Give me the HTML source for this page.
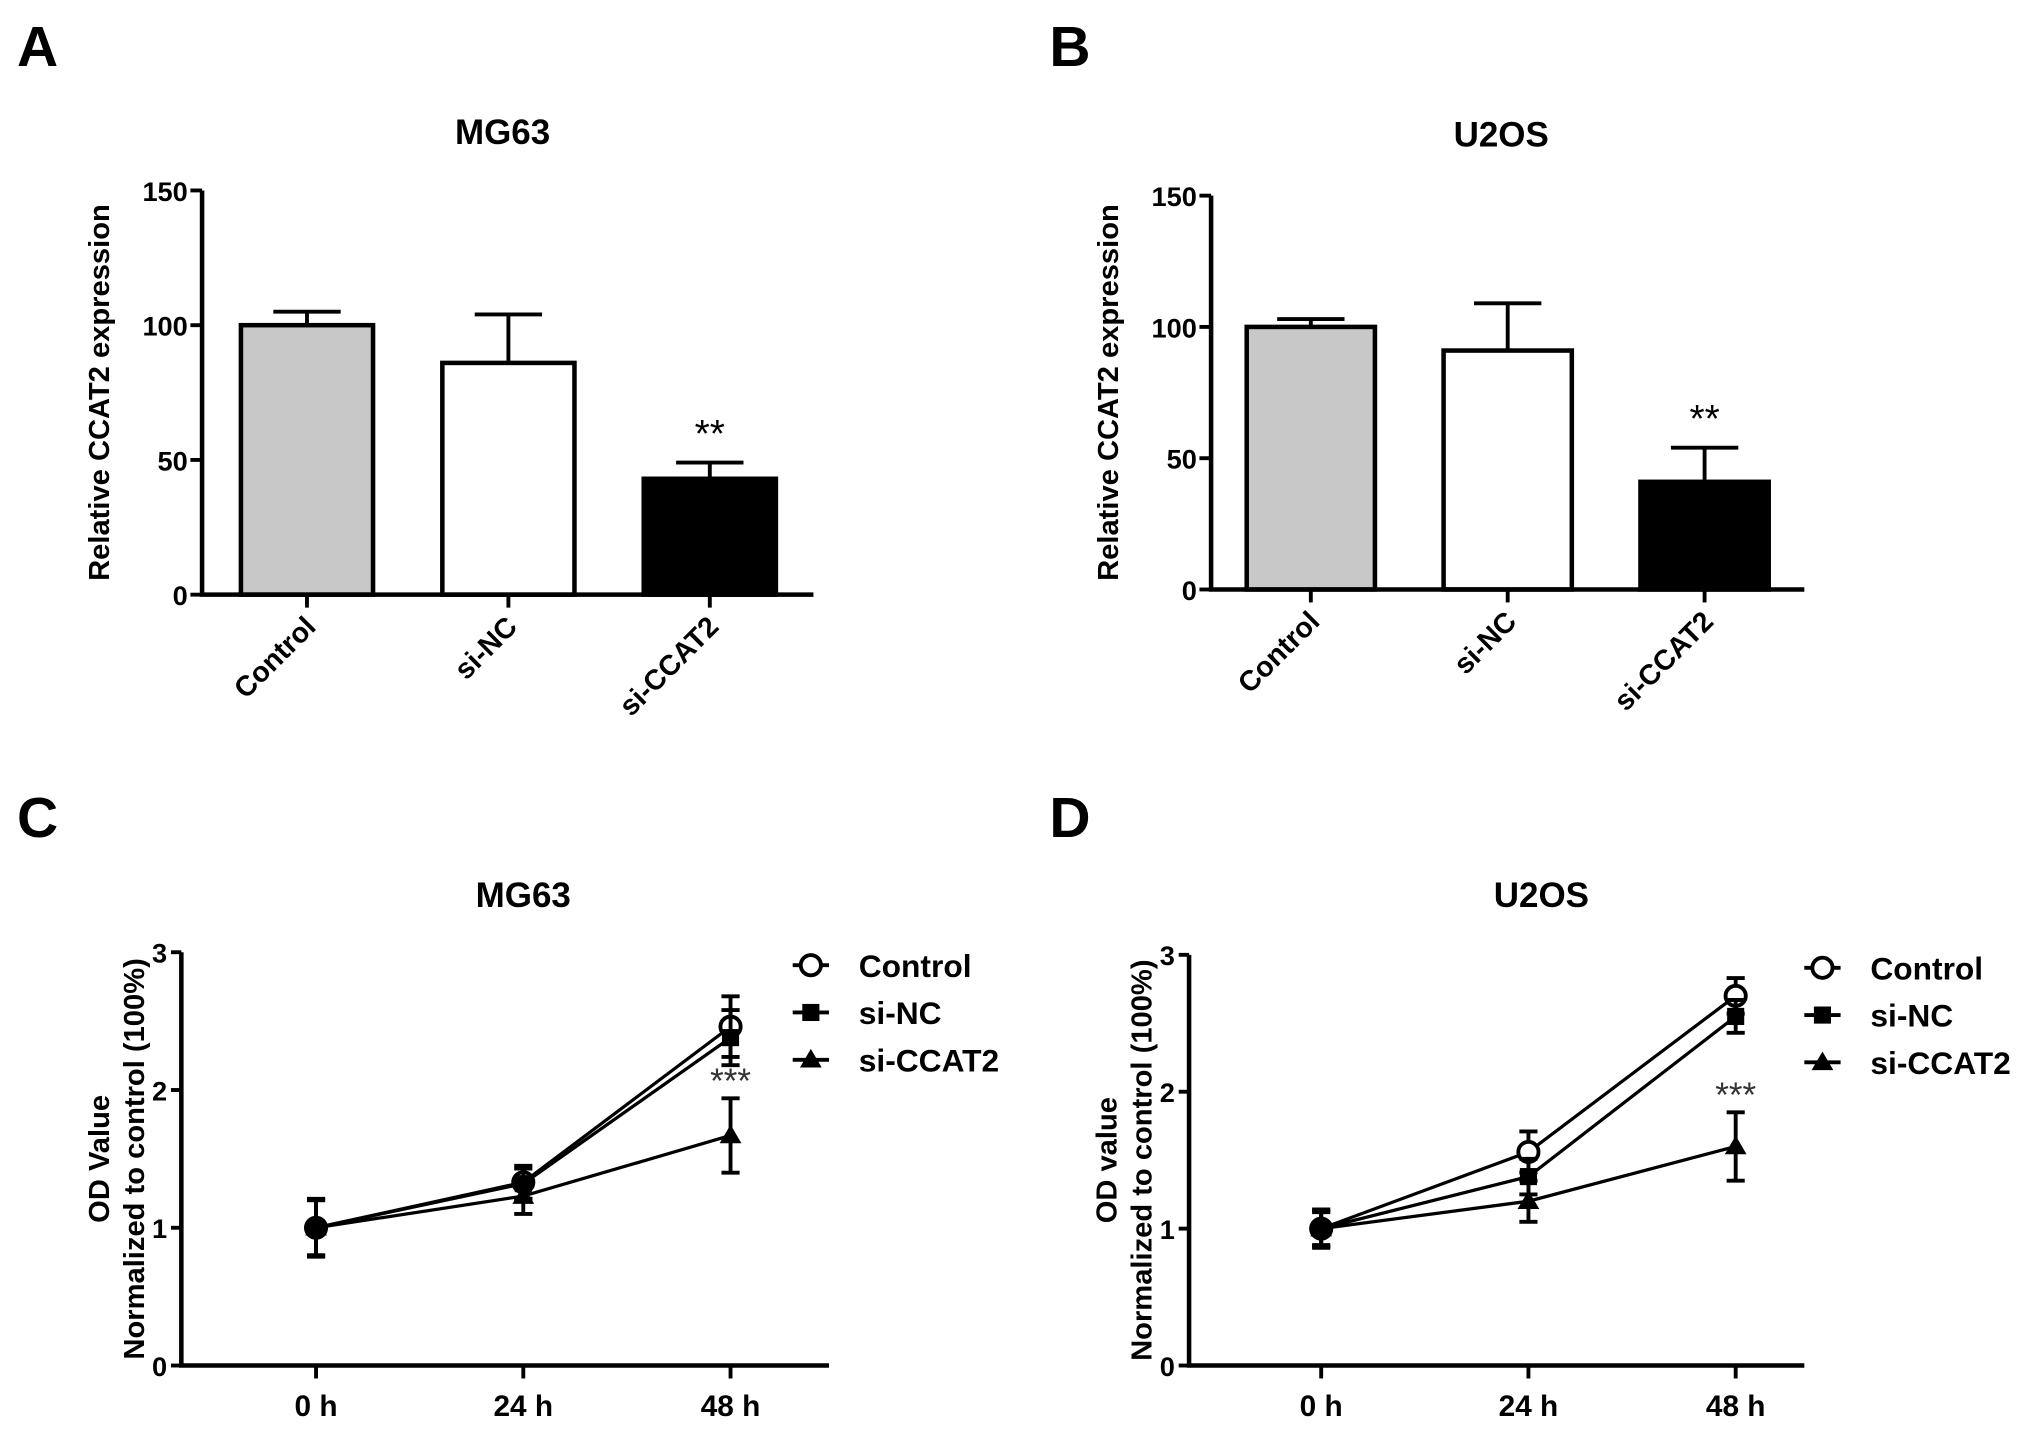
<!DOCTYPE html>
<html><head><meta charset="utf-8"><style>
html,body{margin:0;padding:0;background:#fff;}
svg{display:block;font-family:"Liberation Sans",Arial,sans-serif;font-weight:bold;}
</style></head><body>
<svg id="fig" width="2031" height="1429" viewBox="0 0 1568 1103" preserveAspectRatio="none" xmlns="http://www.w3.org/2000/svg"></svg>
<script>
// ---- Data ----
const barCategories = ["Control", "si-NC", "si-CCAT2"];
const barFills = ["#c8c8c8", "#ffffff", "#000000"];
const mg63BarValues = [100, 86, 43];
const mg63BarErrors = [5, 18, 6];
const u2osBarValues = [100, 91, 41];
const u2osBarErrors = [3, 18, 13];
const barTicks = [0, 50, 100, 150];

const timeLabels = ["0 h", "24 h", "48 h"];
const seriesNames = ["Control", "si-NC", "si-CCAT2"];
const mg63Control = [1, 1.33, 2.46];
const mg63SiNC = [1, 1.32, 2.38];
const mg63SiCCAT2 = [1, 1.23, 1.67];
const mg63ControlErr = [0.21, 0.12, 0.22];
const mg63SiNCErr = [0.2, 0.11, 0.2];
const mg63SiCCAT2Err = [0.2, 0.13, 0.27];
const u2osControl = [1, 1.56, 2.7];
const u2osSiNC = [1, 1.38, 2.55];
const u2osSiCCAT2 = [1, 1.2, 1.6];
const u2osControlErr = [0.14, 0.15, 0.13];
const u2osSiNCErr = [0.13, 0.13, 0.12];
const u2osSiCCAT2Err = [0.12, 0.15, 0.25];
const lineTicks = [0, 1, 2, 3];

const svg = document.getElementById('fig');
const NS = 'http://www.w3.org/2000/svg';
function mk(tag, attrs, parent, text) {
  const e = document.createElementNS(NS, tag);
  for (const k in attrs) e.setAttribute(k, attrs[k]);
  if (text !== undefined) e.textContent = text;
  (parent || svg).appendChild(e);
  return e;
}

function panelLetter(ch, x, y) {
  const t = mk('text', {x: x, y: y, 'font-size': 44, 'text-anchor': 'middle'}, svg, ch);
  
  
}

function barChart(cfg) {
  const g = mk('g', {});
  
  
  const x0 = cfg.x0, x1 = cfg.x1, yTop = cfg.yTop, yBot = cfg.yBot;
  const ys = v => yBot - (v / 150) * (yBot - yTop);
  const xc = i => x0 + cfg.first + cfg.step * i;
  const bw = cfg.bw;
  const title = mk('text', {x: cfg.titleX, y: cfg.titleY, 'font-size': 27, 'text-anchor': 'middle'}, g, cfg.title);
  
  
  const yt = mk('text', {transform: `translate(${x0 - 72},${(yTop + yBot) / 2}) rotate(-90)`, 'font-size': 22.5, 'text-anchor': 'middle'}, g, 'Relative CCAT2 expression');
  
  
  for (let i = 0; i < barCategories.length; i++) {
    const v = cfg.values[i], er = cfg.errors[i];
    const cx = xc(i);
    mk('line', {x1: cx, x2: cx, y1: ys(v), y2: ys(v + er), stroke: '#000', 'stroke-width': 3}, g);
    mk('line', {x1: cx - 26, x2: cx + 26, y1: ys(v + er), y2: ys(v + er), stroke: '#000', 'stroke-width': 3}, g);
    const r = mk('rect', {x: cx - bw / 2, y: ys(v), width: bw, height: ys(0) - ys(v), fill: barFills[i], stroke: '#000', 'stroke-width': 3.5}, g);
    
    
    mk('line', {x1: cx, x2: cx, y1: yBot, y2: yBot + 10, stroke: '#000', 'stroke-width': 3}, g);
    const lab = mk('text', {transform: `translate(${cx + 8},${yBot + 26}) rotate(-45)`, 'font-size': 22, 'text-anchor': 'end'}, g, barCategories[i]);
    
    
  }
  for (const t of barTicks) {
    mk('line', {x1: x0 - 9, x2: x0, y1: ys(t), y2: ys(t), stroke: '#000', 'stroke-width': 3}, g);
    const tl = mk('text', {x: x0 - 11, y: ys(t) + 8, 'font-size': 21, 'text-anchor': 'end'}, g, t);
    
    
  }
  const ax = mk('path', {d: `M${x0},${yTop} V${yBot} H${x1}`, fill: 'none', stroke: '#000', 'stroke-width': 3.5}, g);
  
  
  const i2 = 2;
  const st = mk('text', {x: xc(i2), y: ys(cfg.values[i2] + cfg.errors[i2]) - 12, 'font-size': 30, 'text-anchor': 'middle', 'font-weight': 'normal'}, g, '**');
  
  
}

function marker(g, type, x, y, s) {
  if (type === 0) mk('circle', {cx: x, cy: y, r: s * 0.65, fill: '#fff', stroke: '#000', 'stroke-width': 3}, g);
  else if (type === 1) mk('rect', {x: x - s * 0.55, y: y - s * 0.55, width: s * 1.1, height: s * 1.1, fill: '#000'}, g);
  else mk('path', {d: `M${x},${y - s * 0.7} L${x + s * 0.7},${y + s * 0.5} L${x - s * 0.7},${y + s * 0.5} Z`, fill: '#000'}, g);
}

function lineChart(cfg) {
  const g = mk('g', {});
  
  
  const x0 = cfg.x0, x1 = cfg.x1, yTop = cfg.yTop, yBot = cfg.yBot;
  const ys = v => yBot - (v / 3) * (yBot - yTop);
  const xs = i => cfg.xFirst + i * cfg.xStep;
  const title = mk('text', {x: cfg.titleX, y: cfg.titleY, 'font-size': 27, 'text-anchor': 'middle'}, g, cfg.title);
  
  
  const cy = (yTop + yBot) / 2;
  const t1 = mk('text', {transform: `translate(${x0 - 56},${cy}) rotate(-90)`, 'font-size': 22.5, 'text-anchor': 'middle'}, g, cfg.ylabel1);
  
  
  const t2 = mk('text', {transform: `translate(${x0 - 29},${cy}) rotate(-90)`, 'font-size': 22.5, 'text-anchor': 'middle'}, g, 'Normalized to control (100%)');
  
  
  for (let s = 0; s < cfg.series.length; s++) {
    const vals = cfg.series[s], errs = cfg.errs[s];
    const pl = mk('polyline', {points: vals.map((v, i) => `${xs(i)},${ys(v)}`).join(' '), fill: 'none', stroke: '#000', 'stroke-width': 2.5}, g);
    
    
    for (let i = 0; i < vals.length; i++) {
      const x = xs(i);
      mk('line', {x1: x, x2: x, y1: ys(vals[i] - errs[i]), y2: ys(vals[i] + errs[i]), stroke: '#000', 'stroke-width': 3}, g);
      mk('line', {x1: x - 7, x2: x + 7, y1: ys(vals[i] + errs[i]), y2: ys(vals[i] + errs[i]), stroke: '#000', 'stroke-width': 3}, g);
      mk('line', {x1: x - 7, x2: x + 7, y1: ys(vals[i] - errs[i]), y2: ys(vals[i] - errs[i]), stroke: '#000', 'stroke-width': 3}, g);
      marker(g, s, x, ys(vals[i]), 12);
    }
  }
  for (const t of lineTicks) {
    mk('line', {x1: x0 - 8, x2: x0, y1: ys(t), y2: ys(t), stroke: '#000', 'stroke-width': 3}, g);
    const tl = mk('text', {x: x0 - 11, y: ys(t) + 8, 'font-size': 21, 'text-anchor': 'end'}, g, t);
    
    
  }
  for (let i = 0; i < timeLabels.length; i++) {
    mk('line', {x1: xs(i), x2: xs(i), y1: yBot, y2: yBot + 10, stroke: '#000', 'stroke-width': 3}, g);
    const tl = mk('text', {x: xs(i), y: yBot + 39, 'font-size': 23, 'text-anchor': 'middle'}, g, timeLabels[i]);
    
    
  }
  const ax = mk('path', {d: `M${x0},${yTop} V${yBot} H${x1}`, fill: 'none', stroke: '#000', 'stroke-width': 3.5}, g);
  
  
  const last = cfg.series[2].length - 1;
  const st = mk('text', {x: xs(last), y: ys(cfg.series[2][last] + cfg.errs[2][last]) - 4, 'font-size': 27, 'text-anchor': 'middle', 'font-weight': 'normal', fill: '#333'}, g, '***');
  
  
  for (let s = 0; s < seriesNames.length; s++) {
    const le = mk('g', {}, g);
    
    
    const ly = cfg.legY + s * 36.5;
    mk('line', {x1: cfg.legX, x2: cfg.legX + 28, y1: ly, y2: ly, stroke: '#000', 'stroke-width': 3}, le);
    marker(le, s, cfg.legX + 14, ly, 12);
    mk('text', {x: cfg.legX + 51, y: ly + 9, 'font-size': 24.5}, le, seriesNames[s]);
  }
}

panelLetter('A', 29, 51);
panelLetter('B', 826, 51);
panelLetter('C', 29, 646);
panelLetter('D', 826, 646);

barChart({name: 'bar-chart-mg63', title: 'MG63', titleX: 388, titleY: 111, x0: 156, x1: 628, yTop: 147, yBot: 459, first: 81, step: 155.5, bw: 102, values: mg63BarValues, errors: mg63BarErrors});
barChart({name: 'bar-chart-u2os', title: 'U2OS', titleX: 1159, titleY: 113, x0: 935, x1: 1393, yTop: 151, yBot: 455, first: 77, step: 152, bw: 99, values: u2osBarValues, errors: u2osBarErrors});

lineChart({name: 'line-chart-mg63', title: 'MG63', titleX: 404, titleY: 700, ylabel1: 'OD Value', x0: 140, x1: 640, yTop: 735, yBot: 1054, xFirst: 244, xStep: 160,
  series: [mg63Control, mg63SiNC, mg63SiCCAT2], errs: [mg63ControlErr, mg63SiNCErr, mg63SiCCAT2Err], legX: 612, legY: 745});
lineChart({name: 'line-chart-u2os', title: 'U2OS', titleX: 1190, titleY: 700, ylabel1: 'OD value', x0: 918, x1: 1393, yTop: 737, yBot: 1054, xFirst: 1020, xStep: 160,
  series: [u2osControl, u2osSiNC, u2osSiCCAT2], errs: [u2osControlErr, u2osSiNCErr, u2osSiCCAT2Err], legX: 1393, legY: 747});
</script>
</body></html>
